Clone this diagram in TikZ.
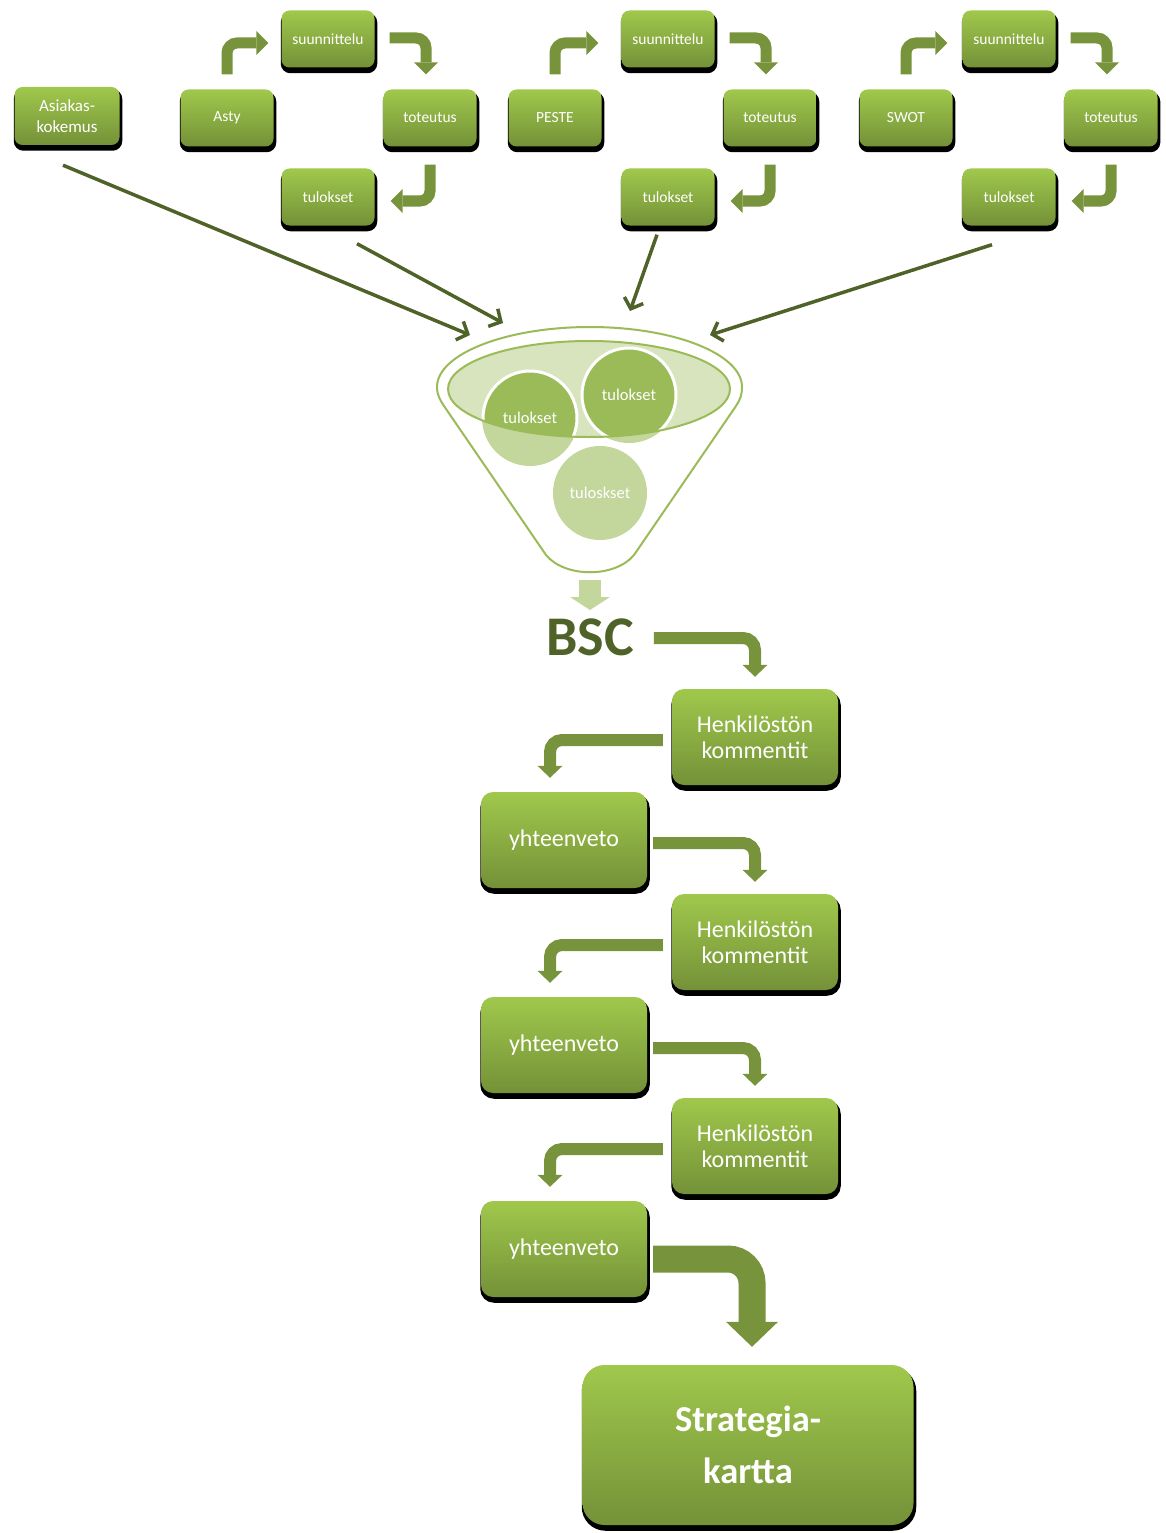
\documentclass[tikz,border=0pt]{standalone}
\usepackage{fontspec}
\setmainfont{Carlito}
\usetikzlibrary{arrows.meta,calc,shadows}
\definecolor{boxtop}{RGB}{160,200,76}
\definecolor{boxbot}{RGB}{116,145,56}
\definecolor{flowgreen}{RGB}{119,147,60}
\definecolor{darkolive}{RGB}{79,98,40}
\definecolor{funnelgreen}{RGB}{155,187,89}
\definecolor{lightgreen}{RGB}{195,214,155}
\definecolor{palegreen}{RGB}{215,228,189}
\begin{document}
\begin{tikzpicture}[x=1pt,y=-1pt,
    box/.style={rectangle,rounded corners=8pt,top color=boxtop,bottom color=boxbot,text=white,align=center,
        drop shadow={shadow xshift=1pt,shadow yshift=-4pt,opacity=1,fill=black,draw=black,line width=3.5pt}},
    smallbox/.style={box,minimum width=93pt,minimum height=57pt,font=\fontsize{15.5}{18}\selectfont},
    midbox/.style={box,minimum width=166pt,minimum height=96pt,rounded corners=12pt,font=\fontsize{24}{26}\selectfont},
    cyc/.style={draw=flowgreen,line width=11pt,rounded corners=10pt,-{Triangle[length=12pt,width=24pt,line width=0pt]}},
    flow/.style={draw=flowgreen,line width=12pt,rounded corners=12pt,-{Triangle[length=12pt,width=25pt,line width=0pt]}},
    bigflow/.style={draw=flowgreen,line width=27pt,rounded corners=24pt,-{Triangle[length=25pt,width=52pt,line width=0pt]}},
    feed/.style={draw=darkolive,line width=3.5pt,-{Straight Barb[length=9pt,width=20pt]}},
    circtext/.style={text=white,font=\fontsize{16.5}{18}\selectfont}]
\useasboundingbox (0,0) rectangle (1166,1533);

% inputs
\node[smallbox,minimum width=105pt,minimum height=58pt,font=\fontsize{17}{21}\selectfont] (asiakas) at (67,116) {Asiakas-\\kokemus};
\foreach \i/\first/\fx/\dx/\gap in {1/Asty/227/0/13, 2/PESTE/555/340/23, 3/SWOT/906/681/15} {
    \node[smallbox] (src\i) at (\fx,118) {\first};
    \node[smallbox] (suun\i) at (328+\dx,39) {suunnittelu};
    \node[smallbox] (tot\i) at (430+\dx,118) {toteutus};
    \node[smallbox] (tul\i) at (328+\dx,197) {tulokset};
    \draw[cyc] ($(src\i.north)+(0,-15)$) |- ($(suun\i.west)+(-\gap,4)$);
    \draw[cyc] ($(suun\i.east)+(15,-1)$) -| ($(tot\i.north)+(-4,-15)$);
    \draw[cyc] ($(tot\i.south)+(0,18)$) |- ($(tul\i.east)+(16,4)$);
}

% funnel
\coordinate (f1) at (470,335);
\coordinate (f2) at (503,323);
\coordinate (f3) at (630,311);
\coordinate (f4) at (710,335);
\coordinate (fbot) at (590,572);
\draw[funnelgreen,line width=2pt,fill=white] (437,387) .. controls (437,354) and (506,327) .. (590,327)
    .. controls (674,327) and (742,354) .. (742,387) .. controls (742,395) and (740,400) .. (736,406)
    -- (634,555) .. controls (615,578) and (565,578) .. (546,555) -- (444,406)
    .. controls (440,400) and (437,395) .. (437,387) -- cycle;
\fill[palegreen] (589,389) ellipse[x radius=141pt,y radius=48pt];
\fill[lightgreen] (530,418) circle[radius=48pt] (629,395) circle[radius=48pt] (600,493) circle[radius=47pt];
\begin{scope}
    \clip (589,389) ellipse[x radius=141pt,y radius=48pt];
    \filldraw[fill=funnelgreen,draw=white,line width=3pt] (530,418) circle[radius=47pt] (629,395) circle[radius=47pt];
\end{scope}
\draw[funnelgreen,line width=2pt] (589,389) ellipse[x radius=141pt,y radius=48pt];
\node[circtext] (c1) at (530,418) {tulokset};
\node[circtext] (c2) at (629,395) {tulokset};
\node[circtext] (c3) at (600,493) {tuloskset};

\draw[feed] ($(asiakas.south)+(-4,20)$) -- (f1);
\draw[feed] ($(tul1.south)+(29,18)$) -- (f2);
\draw[feed] ($(tul2.south)+(-11,9)$) -- (f3);
\draw[feed] ($(tul3.south)+(-17,19)$) -- (f4);

% BSC and comment rounds
\node[inner sep=0pt,text=darkolive,font=\bfseries\fontsize{56}{60}\selectfont] (bsc) at (590,637) {BSC};
\draw[draw=lightgreen,line width=22pt,-{Triangle[length=13pt,width=40pt,line width=0pt]}] ($(fbot)+(0,8)$) -- ($(fbot)+(0,38)$);

\foreach \k/\y in {1/737,2/942,3/1146} {
    \node[midbox] (henk\k) at (755,\y) {Henkilöstön\\kommentit};
    \node[midbox] (yht\k) at (564,\y+103) {yhteenveto};
    \draw[flow] ($(henk\k.west)+(-9,3)$) -| ($(yht\k.north)+(-14,-14)$);
}
\draw[flow] ($(bsc.east)+(20,1)$) -| ($(henk1.north)+(0,-12)$);
\draw[flow] ($(yht1.east)+(6,3)$) -| ($(henk2.north)+(0,-12)$);
\draw[flow] ($(yht2.east)+(6,3)$) -| ($(henk3.north)+(0,-12)$);

\node[box,minimum width=331pt,minimum height=160pt,rounded corners=22pt,font=\bfseries\fontsize{36.5}{52}\selectfont] (strat) at (748,1445) {Strategia-\\kartta};
\draw[bigflow] ($(yht3.east)+(6,10)$) -| ($(strat.north)+(4,-18)$);
\end{tikzpicture}
\end{document}
